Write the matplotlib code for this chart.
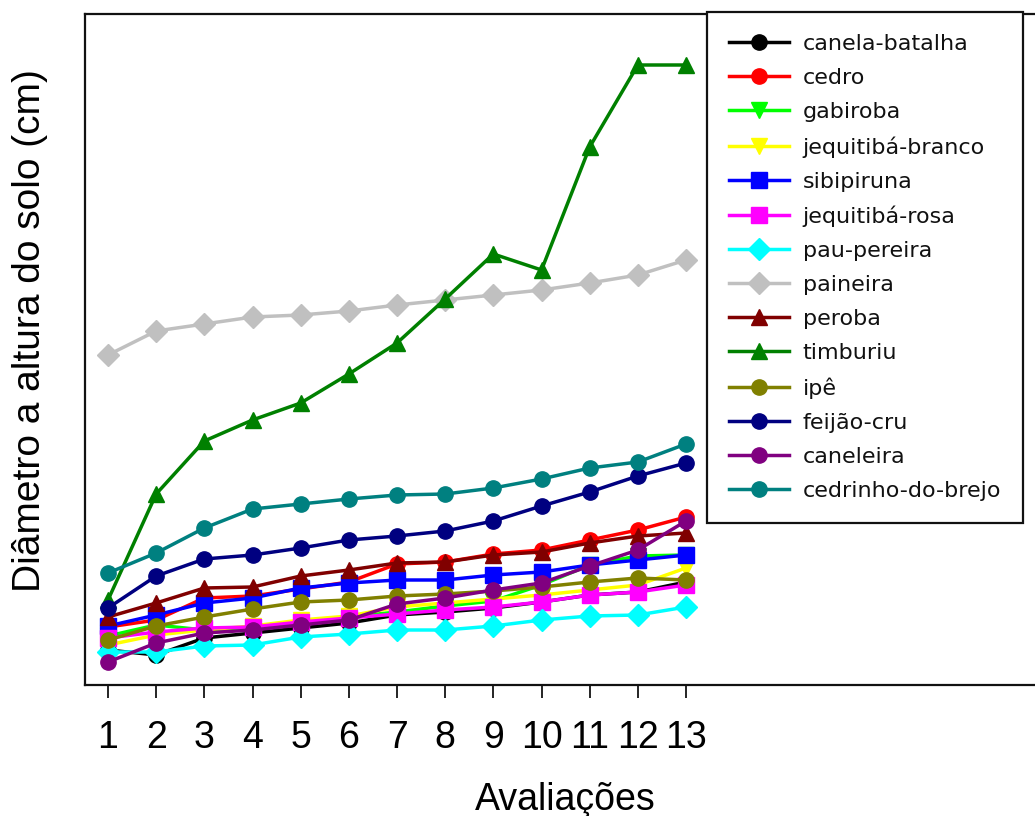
import matplotlib.pyplot as plt

# -----------------------------
# Data: stem diameter at soil height per evaluation
# -----------------------------
avaliacoes = list(range(1, 14))

especies = [
    "canela-batalha", "cedro", "gabiroba", "jequitibá-branco", "sibipiruna",
    "jequitibá-rosa", "pau-pereira", "paineira", "peroba", "timburiu",
    "ipê", "feijão-cru", "caneleira", "cedrinho-do-brejo",
]

canela_batalha = [2.00, 1.75, 2.60, 2.85, 3.10, 3.35, 3.75, 3.90, 4.10, 4.40, 4.75, 4.90, 5.40]
cedro = [3.15, 3.50, 4.60, 4.70, 5.05, 5.40, 6.30, 6.40, 6.80, 7.00, 7.50, 8.00, 8.65]
gabiroba = [2.70, 3.25, 3.00, 3.15, 3.40, 3.65, 3.90, 4.20, 4.45, 5.25, 6.25, 6.70, 6.75]
jequitiba_branco = [2.25, 2.75, 3.00, 3.20, 3.50, 3.70, 4.15, 4.35, 4.55, 4.75, 5.00, 5.25, 6.10]
sibipiruna = [3.20, 3.75, 4.35, 4.60, 5.10, 5.35, 5.50, 5.50, 5.75, 5.90, 6.25, 6.50, 6.75]
jequitiba_rosa = [2.60, 2.90, 3.10, 3.15, 3.40, 3.60, 3.80, 4.00, 4.15, 4.40, 4.75, 4.90, 5.25]
pau_pereira = [1.90, 1.90, 2.20, 2.25, 2.65, 2.80, 3.00, 3.00, 3.20, 3.50, 3.70, 3.75, 4.15]
paineira = [16.75, 17.95, 18.30, 18.65, 18.75, 18.95, 19.25, 19.50, 19.75, 20.00, 20.35, 20.75, 21.50]
peroba = [3.65, 4.35, 5.10, 5.15, 5.70, 6.00, 6.35, 6.40, 6.75, 6.90, 7.35, 7.70, 7.85]
timburiu = [4.50, 9.80, 12.45, 13.50, 14.35, 15.80, 17.35, 19.55, 21.80, 21.00, 27.15, 31.25, 31.25]
ipe = [2.50, 3.20, 3.65, 4.05, 4.40, 4.50, 4.70, 4.80, 4.95, 5.15, 5.40, 5.60, 5.50]
feijao_cru = [4.10, 5.70, 6.55, 6.75, 7.10, 7.50, 7.70, 7.95, 8.45, 9.20, 9.90, 10.70, 11.35]
caneleira = [1.40, 2.35, 2.85, 3.00, 3.25, 3.50, 4.30, 4.60, 5.00, 5.35, 6.20, 7.00, 8.45]
cedrinho_do_brejo = [5.85, 6.85, 8.10, 9.05, 9.30, 9.55, 9.75, 9.80, 10.10, 10.55, 11.10, 11.40, 12.30]

series = [canela_batalha, cedro, gabiroba, jequitiba_branco, sibipiruna,
          jequitiba_rosa, pau_pereira, paineira, peroba, timburiu,
          ipe, feijao_cru, caneleira, cedrinho_do_brejo]

cores = ["#000000", "#FF0000", "#00FF00", "#FFFF00", "#0000FF", "#FF00FF", "#00FFFF",
         "#C0C0C0", "#800000", "#008000", "#808000", "#000080", "#800080", "#008080"]
marcadores = ["o", "o", "v", "v", "s", "s", "D", "D", "^", "^", "o", "o", "o", "o"]

# -----------------------------
# Figure
# -----------------------------
plt.rcParams["font.family"] = ["Liberation Sans", "DejaVu Sans"]

fig = plt.figure(figsize=(10.35, 8.16), dpi=100)
ax = fig.add_axes([85 / 1035, 1 - 685 / 816, 955 / 1035, 671 / 816])

for y, nome, cor, mk in zip(series, especies, cores, marcadores):
    ax.plot(avaliacoes, y, color=cor, marker=mk, markersize=11,
            linewidth=2.5, label=nome)

ax.set_xlim(1 - 23 / 48.17, 13 + 354 / 48.17)
ax.set_ylim(0.25, 33.8)

ax.set_xticks(avaliacoes)
ax.set_xticklabels([str(a) for a in avaliacoes])
ax.set_yticks([])
ax.tick_params(axis="x", direction="out", length=9, width=1.2,
               pad=16, labelsize=27)

for s in ax.spines.values():
    s.set_linewidth(1.6)
    s.set_color("#111111")

fig.text(30 / 1035, 1 - 331 / 816, "Diâmetro a altura do solo (cm)",
         rotation=90, ha="center", va="center", fontsize=28)
fig.text(565 / 1035, 1 - 800 / 816, "Avaliações",
         ha="center", va="center", fontsize=27)

# legend in its own font, wider glyphs
leg = fig.legend(loc="upper left", bbox_to_anchor=(707 / 1035, 1 - 12 / 816),
                 borderaxespad=0, prop={"family": "DejaVu Sans", "size": 16},
                 numpoints=1, handlelength=2.7, handletextpad=0.6,
                 borderpad=1.0, labelspacing=0.63,
                 fancybox=False, framealpha=1)
leg.get_frame().set_edgecolor("#111111")
leg.get_frame().set_linewidth(1.6)
for t in leg.get_texts():
    t.set_color("#111111")

plt.savefig("out.png", dpi=100)
plt.close()
